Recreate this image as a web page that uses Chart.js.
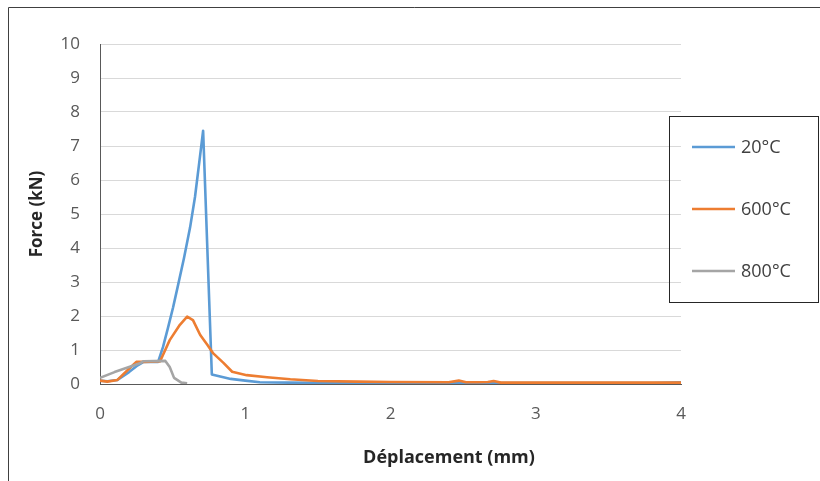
<!DOCTYPE html>
<html>
<head>
<meta charset="utf-8">
<script src="https://cdn.jsdelivr.net/npm/chart.js@4/dist/chart.umd.min.js"></script>
<style>
  html, body { margin: 0; padding: 0; background: #fff; }
  canvas { display: block; }
</style>
</head>
<body>
<canvas id="forceChart" width="820" height="481"></canvas>
<script>
// --- data --------------------------------------------------------------------
const seriesLabels = ['20°C', '600°C', '800°C'];
const seriesColors = ['#5b9bd5', '#ed7d31', '#a5a5a5'];

// 20°C
const x20 = [0, 0.05, 0.12, 0.2, 0.26, 0.3, 0.4, 0.434, 0.468, 0.503, 0.537, 0.578, 0.62, 0.654, 0.68, 0.70, 0.71, 0.77, 0.9, 1.0, 1.1, 1.3, 1.6, 2.0, 3.0, 3.8, 4.0];
const y20 = [0.1, 0.08, 0.12, 0.35, 0.55, 0.65, 0.65, 1.09, 1.65, 2.25, 2.9, 3.7, 4.6, 5.5, 6.4, 7.1, 7.45, 0.28, 0.15, 0.1, 0.05, 0.04, 0.03, 0.03, 0.03, 0.03, 0.05];

// 600°C
const x600 = [0, 0.05, 0.12, 0.2, 0.25, 0.3, 0.4, 0.413, 0.48, 0.55, 0.60, 0.64, 0.69, 0.74, 0.78, 0.85, 0.91, 1.01, 1.15, 1.31, 1.5, 1.77, 2.0, 2.4, 2.47, 2.52, 2.6, 2.67, 2.71, 2.76, 3.0, 4.0];
const y600 = [0.1, 0.07, 0.12, 0.45, 0.65, 0.65, 0.66, 0.66, 1.29, 1.74, 1.98, 1.88, 1.44, 1.15, 0.9, 0.62, 0.36, 0.26, 0.2, 0.14, 0.09, 0.07, 0.06, 0.05, 0.1, 0.05, 0.05, 0.06, 0.09, 0.04, 0.04, 0.04];

// 800°C
const x800 = [0, 0.1, 0.2, 0.27, 0.3, 0.45, 0.48, 0.51, 0.56, 0.6];
const y800 = [0.18, 0.35, 0.5, 0.6, 0.67, 0.68, 0.5, 0.18, 0.04, 0.02];

const xTicks = [0, 1, 2, 3, 4];
const yTicks = [0, 1, 2, 3, 4, 5, 6, 7, 8, 9, 10];

const xTitle = 'Déplacement (mm)';
const yTitle = 'Force (kN)';

// --- helpers -----------------------------------------------------------------
function toPoints(xs, ys) {
  return xs.map(function (x, i) { return { x: x, y: ys[i] }; });
}

const FONT = '"Open Sans", "DejaVu Sans", sans-serif';

// outer frame, x title and boxed legend, drawn by hand like the sheet export
const framePlugin = {
  id: 'frame',
  afterDraw: function (chart) {
    const c = chart.ctx;
    c.save();
    c.strokeStyle = '#404040';
    c.lineWidth = 1;
    c.beginPath();
    c.moveTo(8.5, 481);
    c.lineTo(8.5, 7.5);
    c.lineTo(820, 7.5);
    c.stroke();

    // x title is centred on the whole frame, not on the plot
    c.fillStyle = '#262626';
    c.font = 'bold 18px ' + FONT;
    c.textAlign = 'center';
    c.textBaseline = 'middle';
    c.fillText(xTitle, 449, 458);

    // legend box
    c.strokeStyle = '#262626';
    c.lineWidth = 1;
    c.strokeRect(669.5, 116.5, 149, 186);
    const rows = [147, 209, 271];
    c.font = '18px ' + FONT;
    c.textAlign = 'left';
    seriesLabels.forEach(function (lab, i) {
      c.strokeStyle = seriesColors[i];
      c.lineWidth = 2.5;
      c.beginPath();
      c.moveTo(692, rows[i]);
      c.lineTo(735, rows[i]);
      c.stroke();
      c.fillStyle = '#404040';
      c.fillText(lab, 741, rows[i] + 1);
    });
    c.restore();
  }
};

document.addEventListener('DOMContentLoaded', function () {
  const ctx = document.getElementById('forceChart');

  new Chart(ctx, {
    type: 'line',
    data: {
      datasets: [
        { label: seriesLabels[0], data: toPoints(x20, y20), borderColor: seriesColors[0], order: 2 },
        { label: seriesLabels[1], data: toPoints(x600, y600), borderColor: seriesColors[1], order: 1 },
        { label: seriesLabels[2], data: toPoints(x800, y800), borderColor: seriesColors[2], order: 0 }
      ]
    },
    options: {
      responsive: false,
      animation: false,
      devicePixelRatio: 1,
      layout: { padding: { top: 44, right: 139, bottom: 0, left: 0 } },
      elements: {
        line: { borderWidth: 2.6, tension: 0, borderJoinStyle: 'round' },
        point: { radius: 0 }
      },
      plugins: {
        legend: { display: false },
        tooltip: { enabled: false }
      },
      scales: {
        x: {
          type: 'linear',
          min: 0,
          max: 4,
          afterBuildTicks: function (s) { s.ticks = xTicks.map(function (v) { return { value: v }; }); },
          afterFit: function (s) { s.height = 97; },
          grid: { display: false, drawTicks: false },
          border: { display: true, color: '#595959', width: 1 },
          ticks: { padding: 20, color: '#595959', font: { family: FONT, size: 17 } },
          title: { display: false }
        },
        y: {
          min: 0,
          max: 10,
          afterBuildTicks: function (s) { s.ticks = yTicks.map(function (v) { return { value: v }; }); },
          afterFit: function (s) { s.width = 100; },
          grid: { color: '#d9d9d9', lineWidth: 1, drawTicks: false },
          border: { display: true, color: '#595959', width: 1 },
          ticks: { padding: 20, color: '#595959', font: { family: FONT, size: 17 } },
          title: {
            display: true, text: yTitle, color: '#262626',
            font: { family: FONT, size: 17, weight: 'bold' },
            padding: { top: 27, bottom: 0 }
          }
        }
      }
    },
    plugins: [framePlugin]
  });
});
</script>
</body>
</html>
